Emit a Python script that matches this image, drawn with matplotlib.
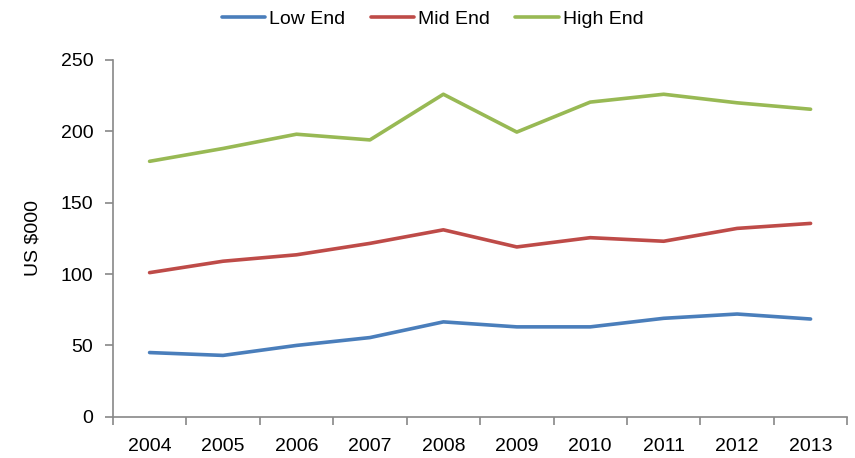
import numpy as np
import matplotlib
matplotlib.use("Agg")
import matplotlib.pyplot as plt

plt.rcParams['font.family'] = ['Liberation Sans', 'DejaVu Sans']

years = ["2004", "2005", "2006", "2007", "2008", "2009", "2010", "2011", "2012", "2013"]
low_end = [45, 43, 50, 55.5, 66.5, 63, 63, 69, 72, 68.5]
mid_end = [101, 109, 113.5, 121.5, 131, 119, 125.5, 123, 132, 135.5]
high_end = [179, 188, 198, 194, 226, 199.5, 220.5, 226, 220, 215.5]

fig = plt.figure(figsize=(8.55, 4.58), dpi=100)
ax = fig.add_axes([0.132, 0.090, 0.859, 0.779])

x = np.arange(len(years))
ax.plot(x, low_end, color="#4A7EBB", lw=2.6, label="Low End", solid_capstyle="round")
ax.plot(x, mid_end, color="#BE4B48", lw=2.6, label="Mid End", solid_capstyle="round")
ax.plot(x, high_end, color="#98B954", lw=2.6, label="High End", solid_capstyle="round")

ax.set_xlim(-0.5, len(years) - 0.5)
ax.set_ylim(0, 250)
ax.set_yticks(range(0, 251, 50))
ax.set_xticks(x)
ax.set_xticklabels(years)
ax.set_xticks(np.arange(-0.5, len(years)), minor=True)
ax.tick_params(axis="x", which="major", length=0, pad=15, labelsize=14)
ax.tick_params(axis="x", which="minor", length=6, color="#888888", direction="out", width=1.2)
ax.tick_params(axis="y", length=6, color="#888888", direction="out", width=1.2,
               labelsize=14, pad=8)

for s in ["top", "right"]:
    ax.spines[s].set_visible(False)
for s in ["left", "bottom"]:
    ax.spines[s].set_color("#888888")
    ax.spines[s].set_linewidth(1.2)

ax.set_ylabel("US $000", fontsize=14, labelpad=14)

fig.legend(loc="upper center", bbox_to_anchor=(0.506, 1.015), ncol=3, frameon=False,
           fontsize=14, handlelength=2.25, handletextpad=0.2, columnspacing=1.3)

fig.savefig("out.png", dpi=100)
